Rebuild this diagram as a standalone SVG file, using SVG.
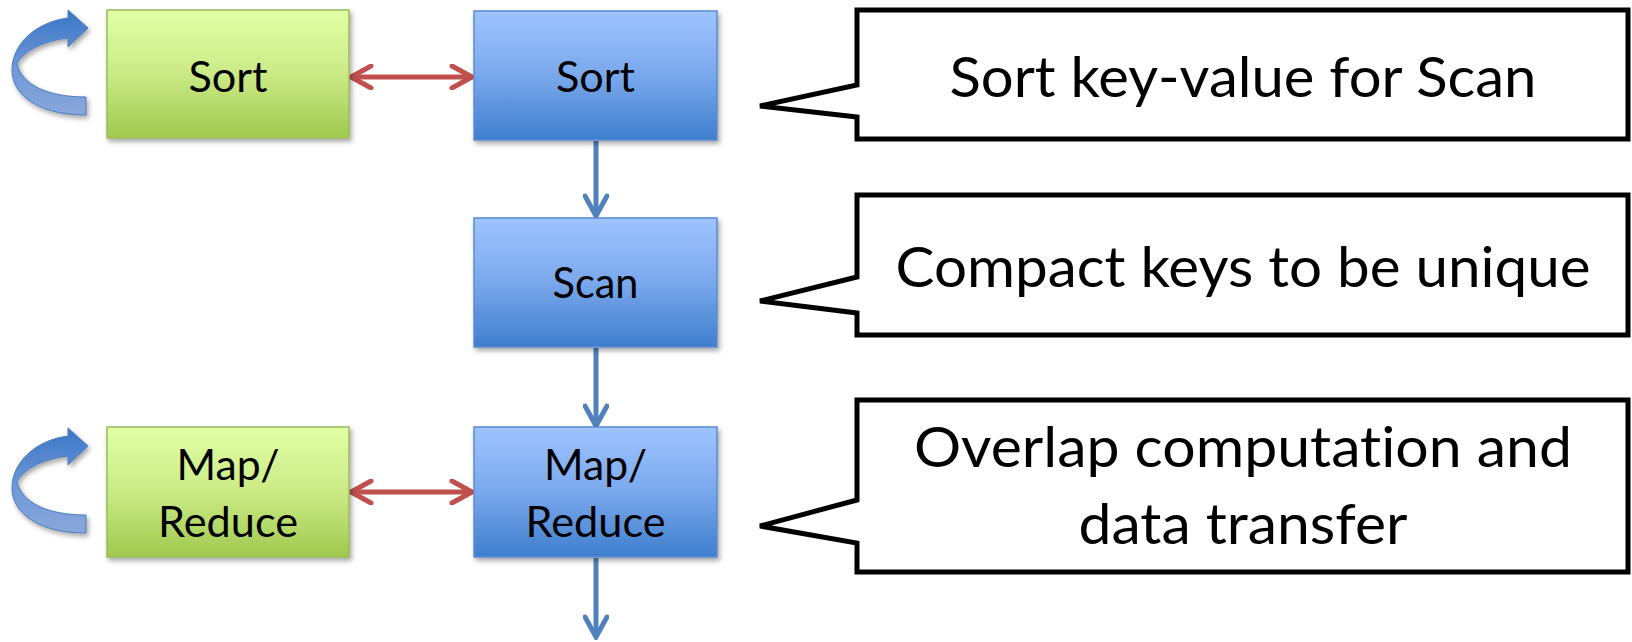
<svg xmlns="http://www.w3.org/2000/svg" width="1632" height="642" viewBox="0 0 1632 642">
<style>
  text { font-variant-ligatures: none; font-feature-settings: "liga" 0, "clig" 0; }
  .node-text { font-family: Lato, "Open Sans", sans-serif; font-size: 43px; fill: #000; text-anchor: middle; }
  .call-text { font-family: Lato, "Open Sans", sans-serif; font-size: 57px; fill: #000; text-anchor: middle; }
  .blue { fill: url(#gBlue); stroke: #5B8BD0; stroke-width: 1.5; filter: url(#shadow); }
  .green { fill: url(#gGreen); stroke: #9BBB59; stroke-width: 1.5; filter: url(#shadow); }
  .callout { fill: #fff; stroke: #000; stroke-width: 5; stroke-linejoin: miter; }
  .red { stroke: #C0504D; stroke-width: 5; fill: none; marker-start: url(#redStart); marker-end: url(#redEnd); }
  .down { stroke: #4F81BD; stroke-width: 5; fill: none; marker-end: url(#blueEnd); }
  .uturn { fill: url(#gTurn); stroke: #4A7CC0; stroke-width: 1; filter: url(#shadow); }
</style>
<defs>
  <linearGradient id="gBlue" x1="0" y1="0" x2="0" y2="1">
    <stop offset="0" stop-color="#9FC4FF"/>
    <stop offset="0.5" stop-color="#7AA8EC"/>
    <stop offset="1" stop-color="#3F7ECD"/>
  </linearGradient>
  <linearGradient id="gGreen" x1="0" y1="0" x2="0" y2="1">
    <stop offset="0" stop-color="#E1FFA6"/>
    <stop offset="0.5" stop-color="#CBEA86"/>
    <stop offset="1" stop-color="#A0C94F"/>
  </linearGradient>
  <linearGradient id="gTurn" x1="0" y1="0" x2="0" y2="1">
    <stop offset="0" stop-color="#3A76C6"/>
    <stop offset="0.55" stop-color="#6F97D8"/>
    <stop offset="1" stop-color="#8AA8DA"/>
  </linearGradient>
  <filter id="shadow" x="-10%" y="-10%" width="125%" height="130%">
    <feDropShadow dx="2" dy="3" stdDeviation="2.5" flood-color="#000" flood-opacity="0.35"/>
  </filter>
  <marker id="redEnd" viewBox="0 0 26 26" refX="23" refY="13" markerWidth="26" markerHeight="26" markerUnits="userSpaceOnUse" orient="auto">
    <path d="M3,2 L23,13 L3,24" fill="none" stroke="#C0504D" stroke-width="5" stroke-linecap="round" stroke-linejoin="miter"/>
  </marker>
  <marker id="redStart" viewBox="0 0 26 26" refX="3" refY="13" markerWidth="26" markerHeight="26" markerUnits="userSpaceOnUse" orient="auto">
    <path d="M23,2 L3,13 L23,24" fill="none" stroke="#C0504D" stroke-width="5" stroke-linecap="round" stroke-linejoin="miter"/>
  </marker>
  <marker id="blueEnd" viewBox="0 0 26 26" refX="23" refY="13" markerWidth="26" markerHeight="26" markerUnits="userSpaceOnUse" orient="auto">
    <path d="M3,2 L23,13 L3,24" fill="none" stroke="#4F81BD" stroke-width="5" stroke-linecap="round" stroke-linejoin="miter"/>
  </marker>
  <path id="turnShape" d="M86,115 C40,115 12,96 12,70 C12,44 36,22 68,18 L68,10 L88,28 L68,47 L68,38 C42,41 22,52 17,64 C22,84 46,97 86,97 Z"/>
</defs>

<g id="connectors">
  <line class="red" x1="351" y1="77" x2="472" y2="77"/>
  <line class="red" x1="351" y1="492" x2="472" y2="492"/>
  <line class="down" x1="596" y1="141" x2="596" y2="216"/>
  <line class="down" x1="596" y1="348" x2="596" y2="426"/>
  <line class="down" x1="596" y1="558" x2="596" y2="637"/>
</g>

<g id="loop-sort">
  <use href="#turnShape" class="uturn"/>
</g>
<g id="loop-mapreduce">
  <use href="#turnShape" class="uturn" transform="translate(0,418)"/>
</g>

<g id="gpu-sort">
  <rect class="green" x="107" y="10" width="242" height="128"/>
  <text class="node-text" x="228" y="92" textLength="79" lengthAdjust="spacingAndGlyphs">Sort</text>
</g>
<g id="gpu-mapreduce">
  <rect class="green" x="107" y="427" width="242" height="130"/>
  <text class="node-text" x="228" y="480" textLength="103" lengthAdjust="spacingAndGlyphs">Map/</text>
  <text class="node-text" x="228" y="537" textLength="140" lengthAdjust="spacingAndGlyphs">Reduce</text>
</g>

<g id="sort">
  <rect class="blue" x="474" y="11" width="243" height="129"/>
  <text class="node-text" x="595.5" y="92" textLength="79" lengthAdjust="spacingAndGlyphs">Sort</text>
</g>
<g id="scan">
  <rect class="blue" x="474" y="218" width="243" height="129"/>
  <text class="node-text" x="595.5" y="298" textLength="86" lengthAdjust="spacingAndGlyphs">Scan</text>
</g>
<g id="mapreduce">
  <rect class="blue" x="474" y="427" width="243" height="130"/>
  <text class="node-text" x="595.5" y="480" textLength="103" lengthAdjust="spacingAndGlyphs">Map/</text>
  <text class="node-text" x="595.5" y="537" textLength="140" lengthAdjust="spacingAndGlyphs">Reduce</text>
</g>

<g id="callout-sort">
  <path class="callout" d="M857,10 H1628 V139 H857 V117 L760,106 L857,85 Z"/>
  <text class="call-text" x="1243" y="97" textLength="587" lengthAdjust="spacingAndGlyphs">Sort key-value for Scan</text>
</g>
<g id="callout-scan">
  <path class="callout" d="M857,195 H1628 V335 H857 V313 L760,301 L857,277 Z"/>
  <text class="call-text" x="1243" y="287" textLength="695" lengthAdjust="spacingAndGlyphs">Compact keys to be unique</text>
</g>
<g id="callout-mapreduce">
  <path class="callout" d="M857,400 H1628 V572 H857 V543 L760,526 L857,500 Z"/>
  <text class="call-text" x="1243" y="467" textLength="658" lengthAdjust="spacingAndGlyphs">Overlap computation and</text>
  <text class="call-text" x="1243" y="544" textLength="329" lengthAdjust="spacingAndGlyphs">data transfer</text>
</g>
</svg>
